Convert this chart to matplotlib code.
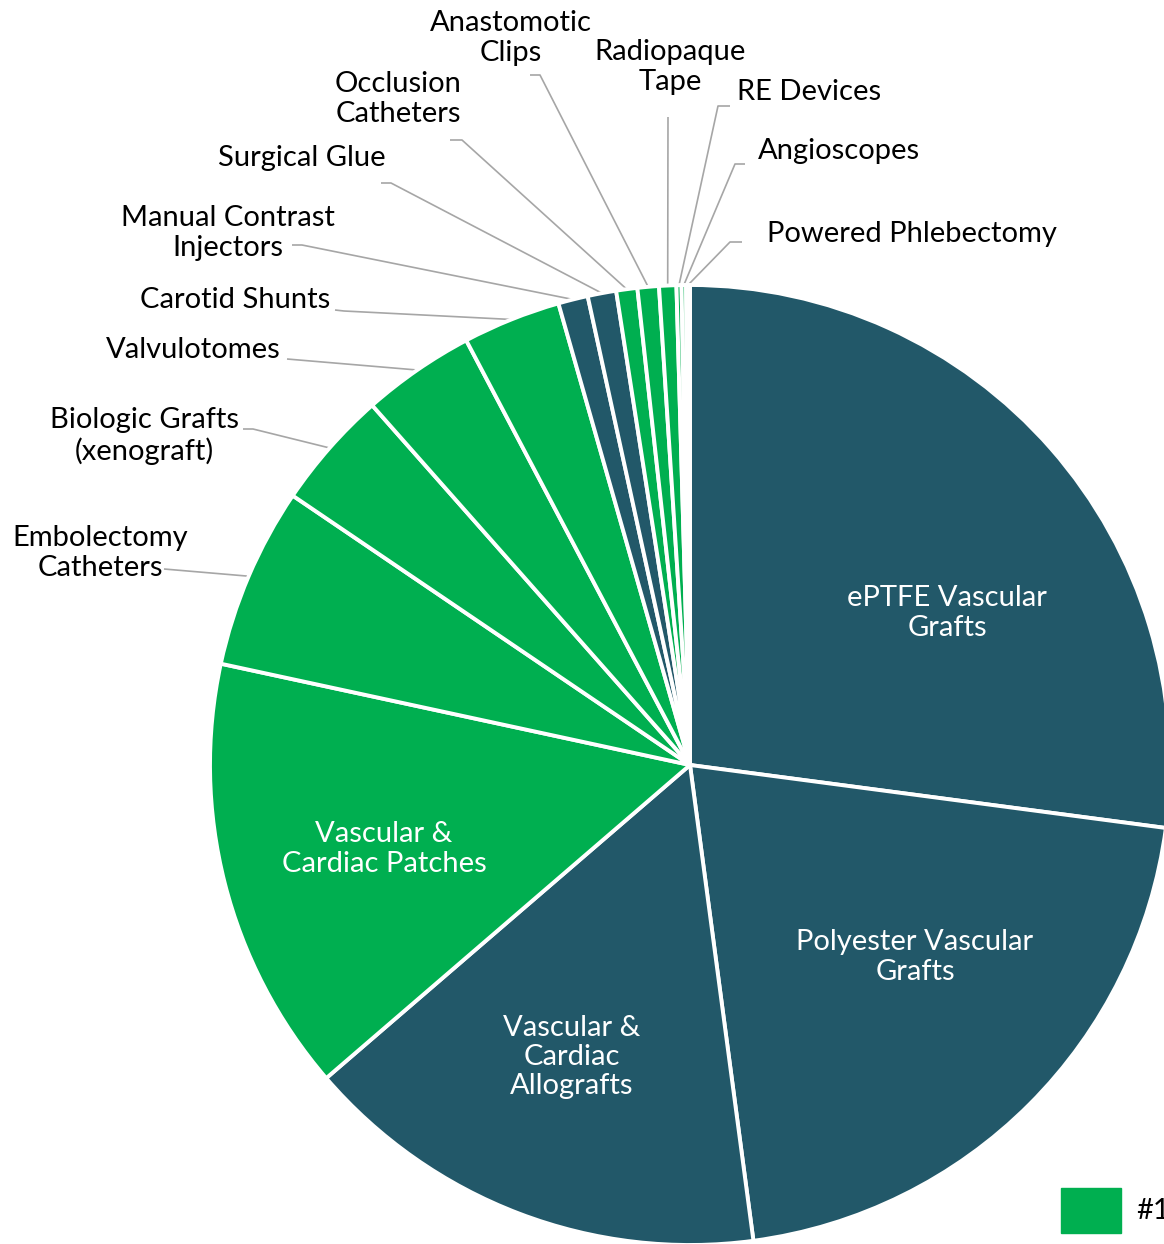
import numpy as np
import matplotlib
matplotlib.use('Agg')
import matplotlib.pyplot as plt
from matplotlib.patches import Rectangle

# ==== Data ====
segments = ['ePTFE Vascular\nGrafts', 'Polyester Vascular\nGrafts',
            'Vascular &\nCardiac\nAllografts', 'Vascular &\nCardiac Patches',
            'Embolectomy\nCatheters', 'Biologic Grafts\n(xenograft)',
            'Valvulotomes', 'Carotid Shunts', 'Manual Contrast\nInjectors',
            'Surgical Glue', 'Occlusion\nCatheters', 'Anastomotic\nClips',
            'Radiopaque\nTape', 'RE Devices', 'Angioscopes', 'Powered Phlebectomy']
shares = [27.1, 20.8, 15.8, 14.7, 6.1, 4.0, 3.8, 3.3, 1.0, 0.96, 0.71, 0.72,
          0.58, 0.17, 0.15, 0.13]
is_top = [False, False, False, True, True, True, True, True, False, False,
          True, True, True, True, True, True]
legend_label = '#1'

# ==== Style ====
W, H = 1164, 1244
DARK = '#225869'
GREEN = '#00AF50'
LEADER = '#A6A6A6'
FONT = 'Lato'
FS = 21
LS = 1.16

# text position (image px), alignment, leader elbow points (image px)
layout = {
    0: dict(inside=(947, 613)),
    1: dict(inside=(915, 957)),
    2: dict(inside=(572, 1057)),
    3: dict(inside=(384, 849)),
    4: dict(text=(100, 553), ha='center', pts=[(164, 569)]),
    5: dict(text=(144, 436), ha='center', pts=[(243, 429), (253, 429)]),
    6: dict(text=(193, 350), ha='center', pts=[(287, 359)]),
    7: dict(text=(235, 300), ha='center', pts=[(335, 310), (344, 311)]),
    8: dict(text=(228, 233), ha='center', pts=[(292, 245), (302, 245)]),
    9: dict(text=(302, 158), ha='center', pts=[(381, 183), (391, 183)]),
    10: dict(text=(398, 99), ha='center', pts=[(450, 140), (462, 140)]),
    11: dict(text=(511, 38), ha='center', pts=[(530, 75), (540, 75)]),
    12: dict(text=(670, 67), ha='center', pts=[(668, 117)]),
    13: dict(text=(737, 92), ha='left', pts=[(730, 106), (718, 106)]),
    14: dict(text=(758, 151), ha='left', pts=[(745, 164), (735, 164)]),
    15: dict(text=(767, 234), ha='left', pts=[(742, 242), (730, 242)]),
}

CX, CY, R = 690, 765, 480


def yy(y):
    return H - y


fig = plt.figure(figsize=(W / 100, H / 100), dpi=100)
ax = fig.add_axes([0, 0, 1, 1])

colors = [GREEN if t else DARK for t in is_top]
wedges, _ = ax.pie(shares, colors=colors, startangle=90, counterclock=False,
                   center=(CX, yy(CY)), radius=R, frame=True,
                   wedgeprops=dict(edgecolor='white', linewidth=2.8))
ax.set_xlim(0, W)
ax.set_ylim(0, H)
ax.set_aspect('equal')
ax.axis('off')

for i, w in enumerate(wedges):
    lay = layout[i]
    if 'inside' in lay:
        x, y = lay['inside']
        ax.text(x, yy(y), segments[i], ha='center', va='center', color='white',
                fontsize=FS, family=FONT, linespacing=LS)
        continue
    mid = np.deg2rad((w.theta1 + w.theta2) / 2)
    px = CX + R * np.cos(mid)
    py = CY - R * np.sin(mid)
    pts = lay['pts'] + [(px, py)]
    ax.plot([p[0] for p in pts], [yy(p[1]) for p in pts], color=LEADER,
            lw=1.2, solid_capstyle='butt', zorder=0)
    x, y = lay['text']
    ax.text(x, yy(y), segments[i], ha=lay['ha'], va='center', color='black',
            fontsize=FS, family=FONT, linespacing=LS)

# legend (cut off at right edge as in the source)
ax.add_patch(Rectangle((1061, yy(1233)), 60, 45, color=GREEN, clip_on=False))
ax.text(1136, yy(1211), legend_label, ha='left', va='center', fontsize=FS,
        family=FONT, color='black')

fig.savefig('out.png', dpi=100)
